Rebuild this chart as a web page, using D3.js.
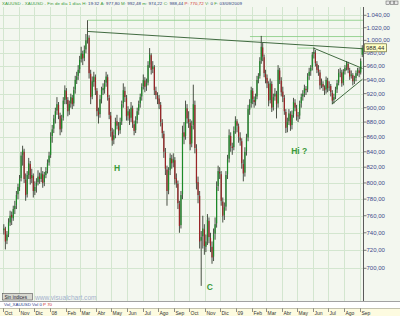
<!DOCTYPE html>
<html>
<head>
<meta charset="utf-8">
<script src="https://cdn.jsdelivr.net/npm/d3@7"></script>
<style>
  body { margin: 0; background: #fff; }
  svg { display: block; font-family: Arial, "Liberation Sans", sans-serif; }
</style>
</head>
<body>
<div id="chart"></div>
<script>
// XAUUSD, end of day, Oct 2007 - Sep 2009 (10 bars per month)
var monthLabels = ["Oct","Nov","Dic","08","Feb","Mar","Abr","May","Jun","Jul","Ago","Sep",
                   "Oct","Nov","Dic","09","Feb","Mar","Abr","May","Jun","Jul","Ago","Sep"];
var priceTicks = [700,720,740,760,780,800,820,840,860,880,900,920,940,960,980,1000,1020,1040];

var opens = [
  743,745,731,738,752,761,757,768,773,786,
  795,806,836,840,804,786,810,824,806,809,
  790,796,801,808,805,811,801,810,816,826,
  836,861,871,885,896,904,889,871,886,911,
  924,911,896,906,914,906,926,940,946,956,
  971,979,973,986,1001,1004,949,916,937,944,
  924,894,891,913,925,927,936,944,914,889,
  867,856,863,881,874,869,881,906,924,914,
  889,894,886,899,877,869,883,896,906,916,
  931,939,931,936,963,977,956,959,924,917,
  913,904,879,864,839,817,791,816,831,826,
  829,806,799,774,749,786,866,861,899,884,
  879,851,876,904,844,801,784,731,736,744,
  724,731,754,734,724,713,739,751,796,814,
  811,777,761,771,811,831,861,847,846,869,
  881,874,859,854,824,813,841,859,897,906,
  924,911,909,916,941,946,969,989,974,949,
  943,934,911,934,901,916,919,906,954,939,
  923,914,894,873,881,891,876,891,907,899,
  889,889,906,916,921,927,926,946,953,959,
  979,981,964,956,951,933,934,929,926,939,
  929,931,921,911,916,926,936,951,951,936,
  953,959,964,954,946,947,939,943,951,954,
  951,977.80
];
var highs = [
  750,747,742,757,766,765,772,778,790,799,
  810,840,848,844,812,815,832,828,818,812,
  802,806,816,813,820,815,814,820,830,840,
  866,876,890,900,915,908,893,890,915,932,
  928,915,910,920,918,930,946,952,962,976,
  990,984,992,1010,1032,1008,955,945,952,948,
  928,900,918,930,935,940,952,948,918,894,
  872,870,886,890,880,886,910,935,930,918,
  902,898,908,903,882,888,900,910,920,935,
  948,944,942,968,988,980,968,962,930,922,
  918,908,884,868,845,822,820,838,836,838,
  833,812,803,778,790,875,880,910,905,895,
  884,882,933,910,850,808,790,742,760,750,
  738,762,758,740,730,745,758,802,822,820,
  815,782,776,815,836,870,866,852,874,888,
  884,878,866,858,830,846,864,904,912,930,
  928,916,920,946,950,974,1007,996,978,955,
  948,938,942,938,920,928,924,962,958,944,
  930,918,898,886,898,895,896,914,912,904,
  894,910,920,925,933,931,950,958,962,982,
  989,985,968,962,955,942,938,932,945,943,
  938,934,925,920,930,940,956,958,955,956,
  962,968,967,958,954,950,946,954,958,958,
  972,992.48
];
var lows = [
  738,721,727,735,748,749,754,762,768,780,
  790,802,822,800,778,782,805,798,800,782,
  785,788,797,799,801,794,796,806,812,822,
  832,852,865,878,890,884,862,866,882,905,
  905,888,890,900,898,902,920,934,940,950,
  966,962,968,980,995,942,905,912,930,918,
  888,878,886,906,918,920,930,910,884,860,
  848,850,858,870,862,864,876,900,908,882,
  882,876,880,872,862,865,878,890,900,910,
  926,922,924,932,958,948,950,918,912,905,
  898,874,858,832,810,772,786,810,818,820,
  798,794,768,740,745,780,850,856,878,872,
  842,846,870,838,792,775,722,681,722,715,
  718,726,728,718,705,708,732,746,790,805,
  772,752,755,766,805,826,840,836,842,864,
  866,852,848,818,802,808,835,854,890,900,
  905,900,903,912,935,942,964,968,944,935,
  928,902,906,894,896,910,885,900,934,916,
  908,890,865,866,876,868,870,886,895,882,
  880,884,900,910,915,918,922,940,946,954,
  972,960,950,946,926,928,924,918,920,922,
  924,916,905,906,912,921,932,944,930,932,
  948,954,950,940,942,932,934,938,946,944,
  948,974.22
];
var closes = [
  745,730,738,752,760,758,768,772,785,795,
  805,835,842,805,785,810,825,805,810,790,
  795,800,808,805,812,800,810,815,825,835,
  860,870,885,895,905,890,870,885,910,925,
  912,895,905,915,905,925,940,945,955,970,
  980,972,985,1000,1005,950,915,938,945,925,
  895,890,912,925,928,935,945,915,890,868,
  855,862,880,875,868,880,905,925,915,888,
  895,885,900,878,868,882,895,905,915,930,
  940,930,935,962,978,955,960,925,918,912,
  905,880,865,840,818,790,815,832,825,830,
  805,800,775,748,785,865,860,900,885,880,
  850,875,905,845,800,785,730,735,745,725,
  730,755,735,725,712,738,750,795,815,812,
  778,760,770,810,830,862,848,845,868,882,
  875,860,855,825,812,840,858,898,905,925,
  912,908,915,940,945,968,990,975,950,942,
  935,910,935,900,915,920,905,955,940,922,
  915,895,872,880,892,875,890,908,900,888,
  888,905,915,920,928,925,945,952,958,978,
  982,965,955,952,932,935,930,925,940,928,
  930,922,910,915,925,935,950,952,935,952,
  958,965,955,945,948,938,942,950,955,950,
  968,988.44
];
var lastPrice = 988.44;

// drawn lines: [start date, price], [end date, price]
var trendLines = [
  [["2008-03-16", 1014], ["2009-09-06", 987]],
  [["2009-06-02", 988], ["2009-09-06", 957]],
  [["2009-07-08", 905], ["2009-09-06", 941]]
];
var levelLines = [
  [["2008-03-16", 1032], ["2009-09-07", 1032]],
  [["2009-01-28", 1006], ["2009-09-07", 1006]],
  [["2009-05-01", 988], ["2009-06-02", 988]]
];
var notes = [["H", "2008-05-06", 815], ["Hi ?", "2009-04-19", 837], ["C", "2008-11-04", 677]];

var W = 400, H = 316;
var plotRight = 363, plotTop = 7, plotBottom = 301;
var parse = d3.timeParse("%Y-%m-%d");
var start = new Date(2007, 9, 1);

var es = d3.formatLocale({decimal: ",", thousands: ".", grouping: [3], currency: ["", ""]});
var fmt = es.format(",.2f");

var x = d3.scaleTime().domain([start, new Date(2009, 8, 7)]).range([3, plotRight]);
var y = d3.scaleLog().domain([700, 1040]).range([268.3, 15.3]);

function barDate(i) {
  var m = Math.floor(i / 10), k = i % 10;
  var d0 = d3.timeMonth.offset(start, m), d1 = d3.timeMonth.offset(start, m + 1);
  return new Date(+d0 + (k + 0.5) / 10 * (d1 - d0));
}
var bars = closes.map(function(c, i) {
  return {date: barDate(i), o: opens[i], h: highs[i], l: lows[i], c: c};
});
var months = d3.timeMonth.range(start, new Date(2009, 9, 1));

var svg = d3.select("#chart").append("svg").attr("width", W).attr("height", H);

svg.append("rect").attr("width", W).attr("height", H).attr("fill", "#f3f7ef");

svg.append("clipPath").attr("id", "plotclip")
  .append("rect").attr("x", 0).attr("y", plotTop).attr("width", plotRight).attr("height", plotBottom - plotTop);

var plot = svg.append("g").attr("clip-path", "url(#plotclip)");

// grid
plot.selectAll(".vg").data(months).enter().append("line")
  .attr("x1", function(d) { return Math.round(x(d)) + 0.5; })
  .attr("x2", function(d) { return Math.round(x(d)) + 0.5; })
  .attr("y1", plotTop).attr("y2", plotBottom)
  .attr("stroke", "#d3e6cf").attr("stroke-width", 1);
plot.selectAll(".hg").data(priceTicks).enter().append("line")
  .attr("x1", 0).attr("x2", plotRight)
  .attr("y1", function(d) { return Math.round(y(d)) + 0.5; })
  .attr("y2", function(d) { return Math.round(y(d)) + 0.5; })
  .attr("stroke", "#d3e6cf").attr("stroke-width", 1);

// level lines
plot.selectAll(".lvl").data(levelLines).enter().append("line")
  .attr("x1", function(d) { return x(parse(d[0][0])); })
  .attr("y1", function(d) { return y(d[0][1]); })
  .attr("x2", function(d) { return x(parse(d[1][0])); })
  .attr("y2", function(d) { return y(d[1][1]); })
  .attr("stroke", "#8fcf8a").attr("stroke-width", 0.9);

// candles
var candle = plot.selectAll(".bar").data(bars).enter().append("g");
candle.append("line")
  .attr("x1", function(d) { return x(d.date); })
  .attr("x2", function(d) { return x(d.date); })
  .attr("y1", function(d) { return y(d.h); })
  .attr("y2", function(d) { return y(d.l); })
  .attr("stroke", "#1e2619").attr("stroke-width", 0.8);
candle.append("rect")
  .attr("x", function(d) { return x(d.date) - 0.6; })
  .attr("width", 1.2)
  .attr("y", function(d) { return y(Math.max(d.o, d.c)); })
  .attr("height", function(d) { return Math.max(0.7, Math.abs(y(d.o) - y(d.c))); })
  .attr("fill", function(d) { return d.c >= d.o ? "#1c8a28" : "#9a2426"; });

// trend lines
plot.selectAll(".tl").data(trendLines).enter().append("line")
  .attr("x1", function(d) { return x(parse(d[0][0])); })
  .attr("y1", function(d) { return y(d[0][1]); })
  .attr("x2", function(d) { return x(parse(d[1][0])); })
  .attr("y2", function(d) { return y(d[1][1]); })
  .attr("stroke", "#2c5a2c").attr("stroke-width", 0.9);

// letters
plot.selectAll(".note").data(notes).enter().append("text")
  .attr("x", function(d) { return x(parse(d[1])); })
  .attr("y", function(d) { return y(d[2]); })
  .attr("font-size", 8.5).attr("font-weight", "bold").attr("fill", "#3a9a3a")
  .text(function(d) { return d[0]; });

// right axis
svg.append("line").attr("x1", plotRight + 0.5).attr("x2", plotRight + 0.5)
  .attr("y1", plotTop).attr("y2", plotBottom).attr("stroke", "#5a5a5a");
var yt = svg.selectAll(".yt").data(priceTicks).enter().append("g")
  .attr("transform", function(d) { return "translate(0," + y(d) + ")"; });
yt.append("line").attr("x1", plotRight + 1).attr("x2", plotRight + 3.5)
  .attr("stroke", "#5a5a5a").attr("stroke-width", 0.8);
yt.append("text").attr("x", plotRight + 3.5).attr("y", 2)
  .attr("font-size", 6).attr("fill", "#3d4a8a")
  .text(function(d) { return fmt(d); });

var lp = svg.append("g").attr("transform", "translate(0," + y(lastPrice) + ")");
lp.append("rect").attr("x", plotRight + 1.5).attr("y", -4).attr("width", 22).attr("height", 8)
  .attr("fill", "#ffffc4").attr("stroke", "#6a6a3a").attr("stroke-width", 0.7);
lp.append("text").attr("x", plotRight + 3).attr("y", 2.2)
  .attr("font-size", 6).attr("fill", "#2a2a2a").text(fmt(lastPrice));

// header
var hdr = svg.append("text").attr("x", 2).attr("y", 5).attr("font-size", 4.4).attr("fill", "#3a9a3a")
  .attr("textLength", 240).attr("lengthAdjust", "spacing");
var hdrParts = [["XAUUSD - XAUUSD - Fin de día 1 días  H: ", "#3a9a3a"], ["19:32", "#2a3a7a"],
  ["  A: ", "#3a9a3a"], ["977,80", "#2a3a7a"], ["  M: ", "#3a9a3a"], ["992,48", "#2a3a7a"],
  ["  m: ", "#3a9a3a"], ["974,22", "#2a3a7a"], ["  C: ", "#3a9a3a"], ["988,44", "#2a3a7a"],
  ["  P: ", "#d03030"], ["770,72", "#d03030"], ["  V: ", "#3a9a3a"], ["0", "#2a3a7a"],
  ["  F: ", "#3a9a3a"], ["03/09/2009", "#2a3a7a"]];
hdr.selectAll("tspan").data(hdrParts).enter().append("tspan")
  .attr("fill", function(d) { return d[1]; }).text(function(d) { return d[0]; });

// window buttons
[0, 1, 2].forEach(function(i) {
  svg.append("rect").attr("x", 386 + i * 4.2).attr("y", 1).attr("width", 3.6).attr("height", 3.6)
    .attr("fill", "#e8e8e8").attr("stroke", "#555").attr("stroke-width", 0.5);
  svg.append("rect").attr("x", 386 + i * 4.2).attr("y", 303.5).attr("width", 3.6).attr("height", 3.6)
    .attr("fill", "#e8e8e8").attr("stroke", "#555").attr("stroke-width", 0.5);
});

// bottom bar
svg.append("rect").attr("x", 2.5).attr("y", 293.5).attr("width", 30).attr("height", 6.5)
  .attr("fill", "#d8d8d0").attr("stroke", "#555").attr("stroke-width", 0.6);
svg.append("text").attr("x", 4.5).attr("y", 298.7).attr("font-size", 4.6).attr("fill", "#223")
  .text("Sin índices");
svg.append("text").attr("x", 35).attr("y", 299.5).attr("font-size", 6.6).attr("fill", "#a4b2cc")
  .text("www.visualchart.com");

svg.append("rect").attr("x", 0).attr("y", plotBottom).attr("width", W).attr("height", 7).attr("fill", "#ffffff");
svg.append("line").attr("x1", 0).attr("x2", W).attr("y1", plotBottom + 0.5).attr("y2", plotBottom + 0.5)
  .attr("stroke", "#8a8a8a").attr("stroke-width", 0.8);
var vol = svg.append("text").attr("x", 4).attr("y", 306.3).attr("font-size", 4.4).attr("fill", "#2a3a8a");
vol.append("tspan").text("Vol_XAUUSD Vol 0 ");
vol.append("tspan").attr("fill", "#d03030").text("P 70");

// month axis
svg.append("rect").attr("x", 0).attr("y", 308).attr("width", W).attr("height", 8).attr("fill", "#fdfbe0");
svg.append("line").attr("x1", 0).attr("x2", W).attr("y1", 308.5).attr("y2", 308.5)
  .attr("stroke", "#9a9a8a").attr("stroke-width", 0.6);
var mt = svg.selectAll(".mt").data(months).enter().append("g")
  .attr("transform", function(d) { return "translate(" + (Math.round(x(d)) + 0.5) + ",0)"; });
mt.append("line").attr("y1", 308.5).attr("y2", 312).attr("stroke", "#444").attr("stroke-width", 0.6);
mt.append("text").attr("x", 1).attr("y", 314.8).attr("font-size", 5).attr("fill", "#333")
  .text(function(d, i) { return monthLabels[i]; });
</script>
</body>
</html>
